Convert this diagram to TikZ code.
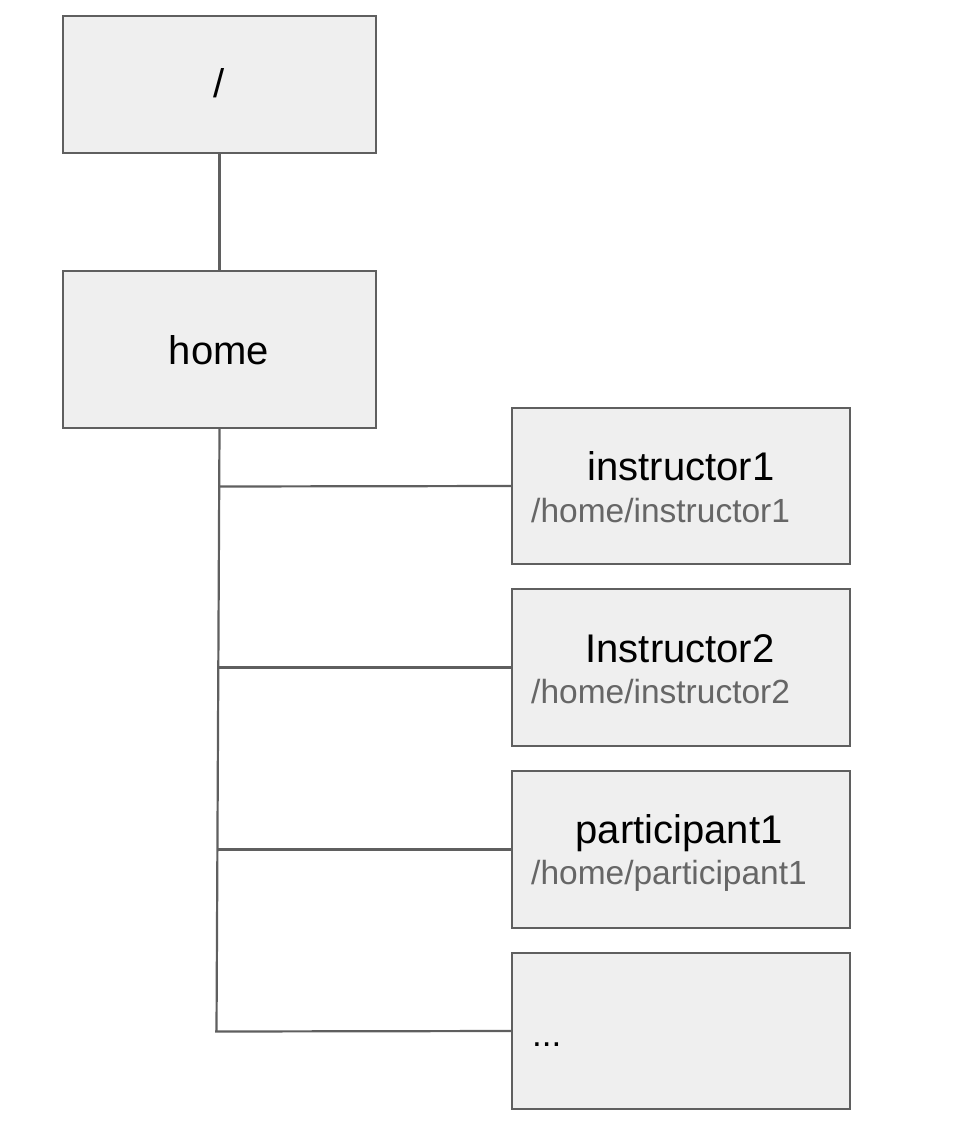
\documentclass[tikz,border=0pt]{standalone}
\usepackage{fontspec}
\setmainfont{Liberation Sans}
\definecolor{edge}{HTML}{5F5F5F}
\definecolor{boxfill}{HTML}{EFEFEF}
\definecolor{subgray}{HTML}{666666}
\begin{document}
\begin{tikzpicture}[x=1pt,y=-1pt,
  box/.style={draw=edge, fill=boxfill, line width=2pt, inner sep=0pt, anchor=north west},
  conn/.style={draw=edge, line width=2.2pt},
  title/.style={anchor=base, inner sep=0pt, font=\fontsize{40}{48}\selectfont},
  sub/.style={anchor=base west, inner sep=0pt, text=subgray, font=\fontsize{33.5}{40}\selectfont}]
\useasboundingbox (0,0) rectangle (966,1130);
\node[box, minimum width=313pt, minimum height=137pt] (root) at (62,15) {};
\node[box, minimum width=313pt, minimum height=157pt] (home) at (62,270) {};
\node[box, minimum width=338pt, minimum height=156pt] (i1) at (511,407) {};
\node[box, minimum width=338pt, minimum height=157pt] (i2) at (511,588) {};
\node[box, minimum width=338pt, minimum height=157pt] (p1) at (511,770) {};
\node[box, minimum width=338pt, minimum height=156pt] (more) at (511,952) {};
% texts
\node[title] (troot) at (219,97) {/};
\node[title] (thome) at (219,364) {home};
\node[title] (ti1) at (681,480) {instructor1};
\node[sub] (si1) at (531,522) {/home/instructor1};
\node[title] (ti2) at (680,662) {Instructor2};
\node[sub] (si2) at (531,703) {/home/instructor2};
\node[title] (tp1) at (679,843) {participant1};
\node[sub] (sp1) at (531,884) {/home/participant1};
\node[anchor=base west, inner sep=0pt, font=\fontsize{35}{40}\selectfont] (tmore) at (532,1046) {...};
% connectors
\coordinate (j1) at (218.5,486.5);
\coordinate (j2) at (217.8,667.5);
\coordinate (j3) at (217,849.5);
\coordinate (j4) at (215,1031.5);
\draw[conn] (root.south) -- (home.north);
\draw[conn] (home.south) -- (216.5,1031.5);
\draw[conn] (j1) -- (i1.west);
\draw[conn] (j2) -- (i2.west);
\draw[conn] (j3) -- (p1.west);
\draw[conn] (j4) -- (more.west);
\end{tikzpicture}
\end{document}
